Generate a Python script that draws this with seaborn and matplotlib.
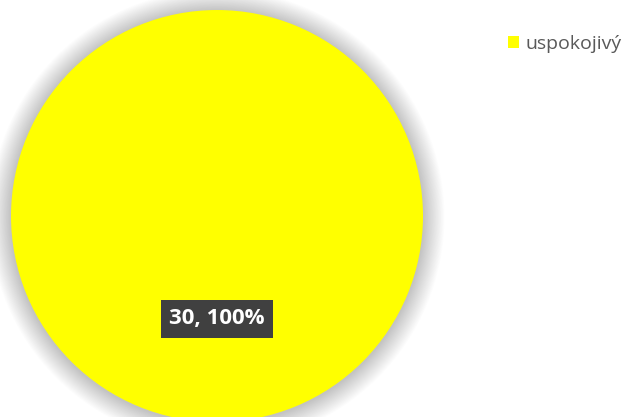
import numpy as np
import pandas as pd
import seaborn as sns
import matplotlib.pyplot as plt
from matplotlib.patches import Circle

# data
categories = ["uspokojivý"]
counts = [30]
colors = ["#FFFF00"]

df = pd.DataFrame({"category": categories, "count": counts})
total = df["count"].sum()

sns.set_theme(style="white")
plt.rcParams["font.family"] = ["Open Sans", "DejaVu Sans"]

fig = plt.figure(figsize=(6.36, 4.17), dpi=100)
ax = fig.add_axes([0.0173, -0.012, 0.6478, 0.988])

wedges, _ = ax.pie(df["count"], colors=colors, startangle=90, radius=1.0,
                   wedgeprops=dict(linewidth=0), counterclock=False)
for w in wedges:
    w.set_zorder(2)

# soft shadow around the pie
for i in range(30):
    r = 1.0 + 0.0035 * (i + 1)
    ax.add_patch(Circle((0.0, -0.005), r, color="#000000", alpha=0.009, lw=0, zorder=0,
                        clip_on=False))

ax.set_xlim(-1.0, 1.0)
ax.set_ylim(-1.0, 1.0)
ax.set_aspect("equal")
ax.axis("off")

# data label
for _, row in df.iterrows():
    lab = f"{row['count']}, {row['count'] / total:.0%}"
    ax.text(0.0, -0.498, lab, ha="center", va="center", color="white",
            fontsize=16, fontweight="bold", zorder=5,
            bbox=dict(boxstyle="square,pad=0.38", fc="#404040", ec="none"))

fig.legend(wedges, df["category"], loc="upper left", bbox_to_anchor=(0.786, 0.935),
           frameon=False, fontsize=14, handlelength=0.6, handleheight=0.6,
           handletextpad=0.3, labelcolor="#595959", borderaxespad=0)

fig.savefig("out.png", dpi=100)
